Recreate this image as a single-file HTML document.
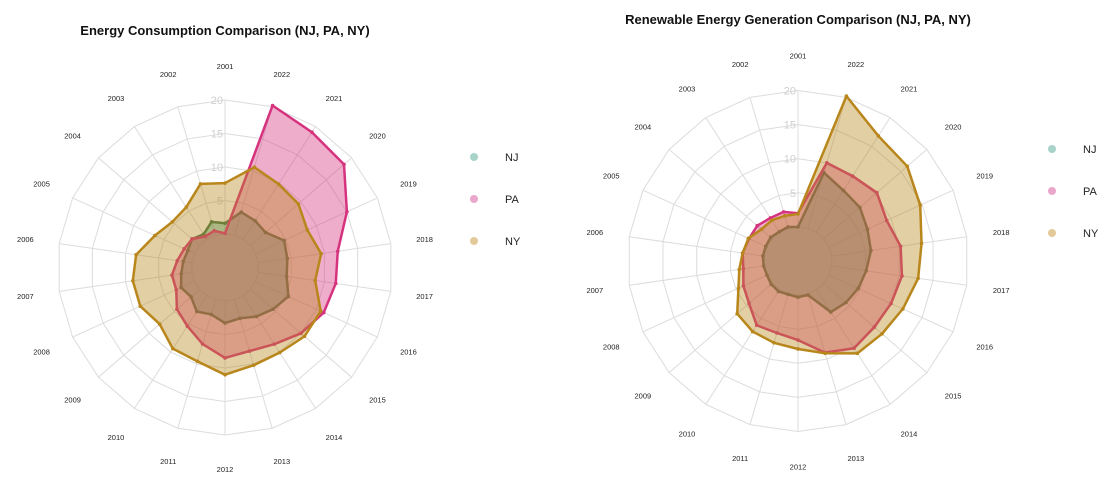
<!DOCTYPE html>
<html><head><meta charset="utf-8">
<style>
html,body{margin:0;padding:0;background:#fff;}
svg{display:block;font-family:"Liberation Sans",Arial,sans-serif;}
</style></head>
<body>
<svg id="chart" width="1111" height="493" viewBox="0 0 1111 493" xmlns="http://www.w3.org/2000/svg">
<text x="225" y="35" text-anchor="middle" font-size="13" font-weight="bold" fill="#111">Energy Consumption Comparison (NJ, PA, NY)</text>
<text x="798" y="24" text-anchor="middle" font-size="13" font-weight="bold" fill="#111">Renewable Energy Generation Comparison (NJ, PA, NY)</text>
<g id="left"></g>
<g id="right"></g>
</svg>
<script>
const years = ["2001","2002","2003","2004","2005","2006","2007","2008","2009","2010","2011","2012","2013","2014","2015","2016","2017","2018","2019","2020","2021","2022"];
const gridTicks = [0,5,10,15,20];
const tickLabels = ["5","10","15","20"];
const states = ["NJ","PA","NY"];
// Left: energy consumption
const consNJ = [1.6,2.1,0.9,1.5,1.1,1.3,1.6,2.2,1.7,2.8,2.3,3.3,2.9,3.7,4.5,5.4,4.3,4.4,4.7,3.0,3.3,3.6];
const consPA = [0.1,0.7,0.5,1.5,1.7,2.2,3.0,3.0,4.5,5.4,6.9,8.5,8.0,8.6,10.0,11.2,11.7,12.0,15.0,18.5,19.0,20.2];
const consNY = [7.6,8.0,5.7,5.4,6.5,8.4,8.9,8.9,7.9,9.4,9.6,11.0,10.2,10.1,10.7,10.7,8.6,9.5,8.5,9.5,9.8,10.6];
// Right: renewable generation
const renNJ = [0.0,0.2,0.1,0.3,0.2,0.2,0.1,0.0,0.2,0.3,0.1,0.3,0.2,3.9,4.3,4.7,5.1,5.8,6.2,7.0,7.3,8.5];
const renPA = [2.0,2.5,2.5,2.9,2.9,3.2,3.1,3.8,4.5,6.2,6.0,6.6,9.0,10.2,9.8,10.0,10.4,10.2,9.3,10.3,9.8,10.0];
const renNY = [1.9,1.9,2.1,2.1,3.0,3.2,3.7,4.6,6.8,7.3,7.5,7.9,9.1,11.1,11.3,11.9,12.8,13.3,14.7,16.2,16.8,20.2];

const NS="http://www.w3.org/2000/svg";
const strokeCols={NJ:"#3f7a4c",PA:"#d6337f",NY:"#b8861b"};
const fillCols={NJ:"rgba(27,158,119,0.4)",PA:"rgba(214,51,127,0.4)",NY:"rgba(184,134,27,0.4)"};
const legCols={NJ:"#a7d3c9",PA:"#eaa6cb",NY:"#e4c99a"};
function mk(tag,attrs,parent){const e=document.createElementNS(NS,tag);for(const k in attrs)e.setAttribute(k,attrs[k]);parent.appendChild(e);return e;}

function drawRadar(g,cx,cy,R,series,legX,legY){
  const n=years.length;
  const rScale=v=>(v+5)/25*R;
  const ang=i=>(-90-i*360/n)*Math.PI/180;
  const pt=(i,v)=>[cx+rScale(v)*Math.cos(ang(i)),cy+rScale(v)*Math.sin(ang(i))];
  gridTicks.forEach(t=>{
    const pts=years.map((y,i)=>pt(i,t).join(",")).join(" ");
    const ring=mk("polygon",{points:pts,fill:"none",stroke:"#dcdcdc","stroke-width":1},g);
    
    
  });
  years.forEach((y,i)=>{
    const a=pt(i,0),b=pt(i,20);
    const sp=mk("line",{x1:a[0],y1:a[1],x2:b[0],y2:b[1],stroke:"#dcdcdc","stroke-width":1},g);
    
    
    const l=pt(i,25.1);
    const tx=mk("text",{x:l[0],y:l[1]+3,"text-anchor":"middle","font-size":7.5,fill:"#222"},g);
    tx.textContent=y;
    
    
  });
  tickLabels.forEach((s,k)=>{
    const v=(k+1)*5;
    const tx=mk("text",{x:cx-2,y:cy-rScale(v)+4,"text-anchor":"end","font-size":11,fill:"#cfcfcf"},g);
    tx.textContent=s;
    
    
  });
  ["NJ","PA","NY"].forEach(st=>{
    const vals=series[st];
    const pts=vals.map((v,i)=>pt(i,v).join(",")).join(" ");
    const poly=mk("polygon",{points:pts,fill:fillCols[st],stroke:strokeCols[st],"stroke-width":2.5,"stroke-linejoin":"round"},g);
    
    
    vals.forEach((v,i)=>{
      const p=pt(i,v);
      const c=mk("circle",{cx:p[0],cy:p[1],r:1.8,fill:strokeCols[st]},g);
      
      
    });
  });
  states.forEach((st,k)=>{
    const y=legY+k*42;
    const c=mk("circle",{cx:legX,cy:y,r:4,fill:legCols[st]},g);
    
    
    const t=mk("text",{x:legX+31,y:y+4,"font-size":11,fill:"#222"},g);
    t.textContent=st;
    
    
  });
}
drawRadar(document.getElementById("left"),225,267.5,167.5,{NJ:consNJ,PA:consPA,NY:consNY},474,157);
drawRadar(document.getElementById("right"),798,261,170.5,{NJ:renNJ,PA:renPA,NY:renNY},1052,149);
</script>
</body></html>
